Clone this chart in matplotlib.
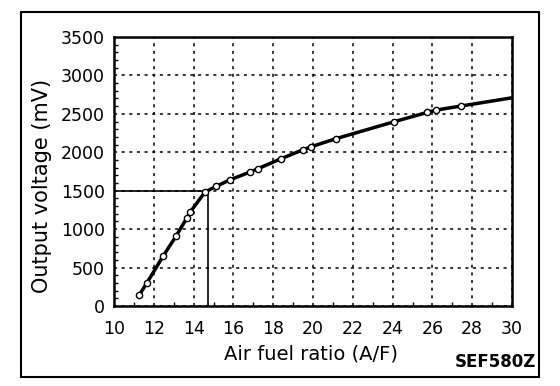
import matplotlib
matplotlib.use('Agg')
import matplotlib.pyplot as plt
from matplotlib.patches import Rectangle
from matplotlib.ticker import MultipleLocator

# Output voltage vs air fuel ratio
af_ratio = [11.27, 11.64, 12.48, 13.12, 13.65, 13.82, 14.57, 15.13, 15.83,
            16.83, 17.22, 18.38, 19.48, 19.88, 21.14, 24.07, 25.74, 26.18,
            27.42, 30.0]
voltage_mv = [143, 295, 654, 910, 1140, 1218, 1482, 1556, 1642,
              1742, 1785, 1915, 2031, 2070, 2176, 2397, 2519, 2549,
              2601, 2709]
# last point is only where the line leaves the plot, no marker there
n_markers = len(af_ratio) - 1

# stoichiometric reference line
ref_af = 14.7
ref_mv = 1500

x_ticks = list(range(10, 31, 2))
y_ticks = list(range(0, 3501, 500))

plt.rcParams['font.family'] = ['DejaVu Sans']

fig = plt.figure(figsize=(5.6, 3.86), dpi=100)
ax = fig.add_axes([114 / 560, 1 - 306 / 386, 398 / 560, 269 / 386])

ax.plot(af_ratio, voltage_mv, color='black', lw=2.5, marker='o', ms=4.5,
        mfc='white', mec='black', mew=1.0, markevery=list(range(n_markers)),
        zorder=5)

# reference lines at A/F 14.7 / 1500 mV
ax.plot([10, ref_af], [ref_mv, ref_mv], color='black', lw=1.2, zorder=4)
ax.plot([ref_af, ref_af], [0, ref_mv], color='black', lw=1.2, zorder=4)

ax.set_xlim(10, 30)
ax.set_ylim(0, 3500)
ax.set_xticks(x_ticks)
ax.set_yticks(y_ticks)
ax.xaxis.set_minor_locator(MultipleLocator(1))
ax.yaxis.set_minor_locator(MultipleLocator(100))

ax.grid(True, which='major', color='black', ls=(0, (2, 3)), lw=1.1)
ax.tick_params(which='major', direction='in', length=0, labelsize=12.5)
ax.tick_params(axis='x', which='major', pad=10)
ax.tick_params(axis='y', which='major', pad=6.5)
ax.tick_params(which='minor', direction='in', length=3, width=1.0)
for s in ax.spines.values():
    s.set_linewidth(1.8)

fig.text(311 / 560, 1 - 354 / 386, 'Air fuel ratio (A/F)', ha='center',
         va='center', fontsize=14)
fig.text(42 / 560, 1 - 186 / 386, 'Output voltage (mV)', ha='center',
         va='center', rotation=90, fontsize=15)
fig.text(536 / 560, 1 - 362 / 386, 'SEF580Z', ha='right', va='center',
         fontsize=12, fontweight='bold')

# outer frame around the whole figure
fig.patches.append(Rectangle((21 / 560, 1 - 377 / 386), 518 / 560, 365 / 386,
                             transform=fig.transFigure, fill=False,
                             lw=1.5, ec='black'))

fig.savefig('out.png', dpi=100)
